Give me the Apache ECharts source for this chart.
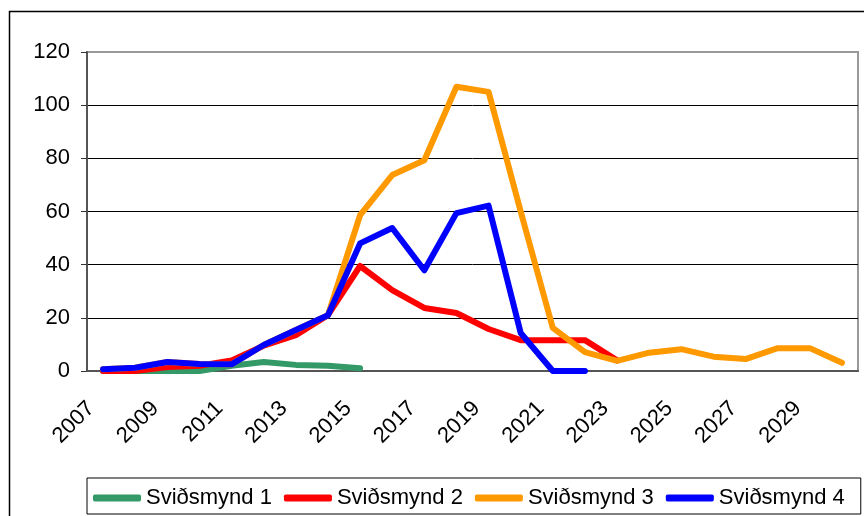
<!DOCTYPE html>
<html>
<head>
<meta charset="utf-8">
<script src="https://cdn.jsdelivr.net/npm/echarts@6/dist/echarts.min.js"></script>
<style>
  html, body { margin: 0; padding: 0; background: #fff; }
  #chart { width: 864px; height: 516px; }
</style>
</head>
<body>
<div id="chart"></div>
<script>
// ár 2007-2030
const years = ['2007','2008','2009','2010','2011','2012','2013','2014','2015','2016','2017','2018',
  '2019','2020','2021','2022','2023','2024','2025','2026','2027','2028','2029','2030']

// gildi lesin af myndinni
const svidsmynd1 = [0, 0, 0, 0, 2, 3.4, 2.3, 2, 1]
const svidsmynd2 = [0, 0, 1.5, 2, 4, 9.5, 13.5, 21, 39.5, 30.4, 23.7, 21.8, 15.8, 11.6, 11.6, 11.6, 4]
const svidsmynd3 = [0.7, 1.2, 3.4, 2.6, 2.5, 9.8, 15.4, 21, 58.6, 73.7, 79.3, 106.9, 105, 60, 16.2, 7.1,
  3.8, 6.9, 8.2, 5.4, 4.5, 8.6, 8.6, 3.1]
const svidsmynd4 = [0.7, 1.2, 3.4, 2.6, 2.5, 9.8, 15.4, 21, 48, 53.8, 37.9, 59.4, 62.2, 14.3, 0, 0]

const seriesNames = ['Sviðsmynd 1', 'Sviðsmynd 2', 'Sviðsmynd 3', 'Sviðsmynd 4']
const seriesColors = ['#339966', '#ff0000', '#ff9900', '#0000ff']
const seriesData = [svidsmynd1, svidsmynd2, svidsmynd3, svidsmynd4]

const font = '"Liberation Sans", Arial, sans-serif'

const chart = echarts.init(document.getElementById('chart'))

chart.setOption({
  animation: false,
  textStyle: { fontFamily: font },
  grid: {
    left: 87, right: 6, top: 52, bottom: 145,
    show: true, borderColor: '#999', borderWidth: 2
  },
  graphic: [{
    type: 'rect',
    shape: { x: 9.5, y: 11.5, width: 900, height: 600 },
    style: { fill: 'none', stroke: '#000', lineWidth: 1.5 },
    silent: true
  }],
  legend: {
    left: 87, bottom: 2,
    padding: [9, 16, 5, 6],
    borderColor: '#000', borderWidth: 1,
    itemWidth: 48, itemHeight: 7, itemGap: 12,
    icon: 'roundRect',
    textStyle: { fontSize: 22, color: '#000', fontFamily: font },
    data: seriesNames
  },
  xAxis: {
    type: 'category',
    data: years,
    boundaryGap: true,
    axisLine: { lineStyle: { color: '#555', width: 2 } },
    axisTick: { interval: 0, length: 6, lineStyle: { color: '#333' } },
    axisLabel: { interval: 1, rotate: 45, fontSize: 22, color: '#000', margin: 22, padding: [0, 17, 0, 0] },
    splitLine: { show: false }
  },
  yAxis: {
    type: 'value',
    min: 0, max: 120, interval: 20,
    axisLine: { show: true, lineStyle: { color: '#555', width: 2 } },
    axisTick: { show: true, length: 6, lineStyle: { color: '#333' } },
    axisLabel: { fontSize: 22, color: '#000', margin: 17 },
    splitLine: { lineStyle: { color: ['#000', '#000', '#000', '#000', '#000', '#000', '#999'], width: 1 } }
  },
  series: seriesData.map((d, i) => ({
    type: 'line',
    name: seriesNames[i],
    data: d,
    symbol: 'none',
    color: seriesColors[i],
    lineStyle: { width: 6, color: seriesColors[i], cap: 'round', join: 'round' }
  }))
})
</script>
</body>
</html>
